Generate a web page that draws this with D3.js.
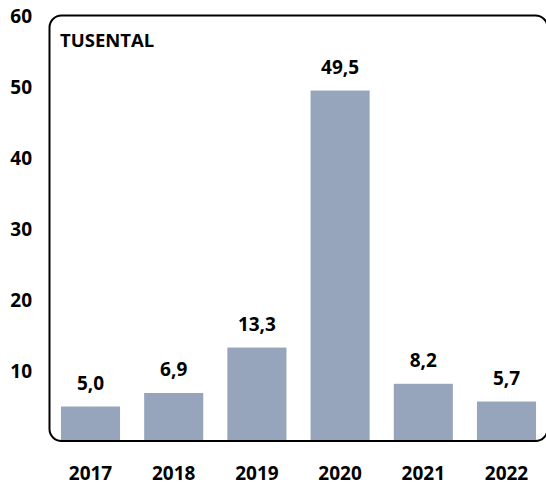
<!DOCTYPE html>
<html><head><meta charset="utf-8">
<script src="https://cdn.jsdelivr.net/npm/d3@7"></script>
<style>body{margin:0;background:#fff}svg{display:block}text{font-family:"Open Sans",Lato,sans-serif;font-weight:bold;fill:#000}</style>
</head><body><div id="c"></div>
<script>
const years = ["2017","2018","2019","2020","2021","2022"];
const values = [5.0, 6.9, 13.3, 49.5, 8.2, 5.7];
const yTicks = [10, 20, 30, 40, 50, 60];
const unitLabel = "TUSENTAL";

const W = 546, H = 484;
const svg = d3.select("#c").append("svg").attr("width", W).attr("height", H);
const x = d3.scaleBand().domain(years).range([48.9, 548.1]).paddingInner(0.29).paddingOuter(0.145);
const y = d3.scaleLinear().domain([0, 60]).range([442, 16]);
const fmt = v => v.toFixed(1).replace(".", ",");

svg.append("g").selectAll("rect").data(values).join("rect")
  .attr("x", (d, i) => x(years[i])).attr("width", x.bandwidth())
  .attr("y", d => y(d)).attr("height", d => y(0) - y(d))
  .attr("fill", "#96a5bc");

// border (rounded frame)
svg.append("rect").attr("x", 49.5).attr("y", 15.5).attr("width", 498).attr("height", 425.5)
  .attr("rx", 12).attr("fill", "none").attr("stroke", "#000").attr("stroke-width", 2);

// value labels
svg.append("g").selectAll("text").data(values).join("text")
  .attr("x", (d, i) => x(years[i]) + x.bandwidth() / 2)
  .attr("y", d => y(d) - 17)
  .attr("text-anchor", "middle").attr("font-size", 19).text(fmt);

// y axis
const ya = svg.append("g").attr("transform", "translate(32,0)")
  .call(d3.axisLeft(y).tickValues(yTicks).tickSize(0).tickPadding(0).tickFormat(d3.format("d")));
ya.select(".domain").remove();
ya.selectAll("text").attr("font-size", 19).attr("font-family", null).attr("fill", "#000");

// x axis
const xa = svg.append("g").attr("transform", "translate(0,466)")
  .call(d3.axisBottom(x).tickSize(0).tickPadding(0));
xa.select(".domain").remove();
xa.selectAll("text").attr("font-size", 19).attr("font-family", null).attr("fill", "#000");

svg.append("text").attr("x", 60).attr("y", 47).attr("font-size", 18.5).text(unitLabel);
</script></body></html>
